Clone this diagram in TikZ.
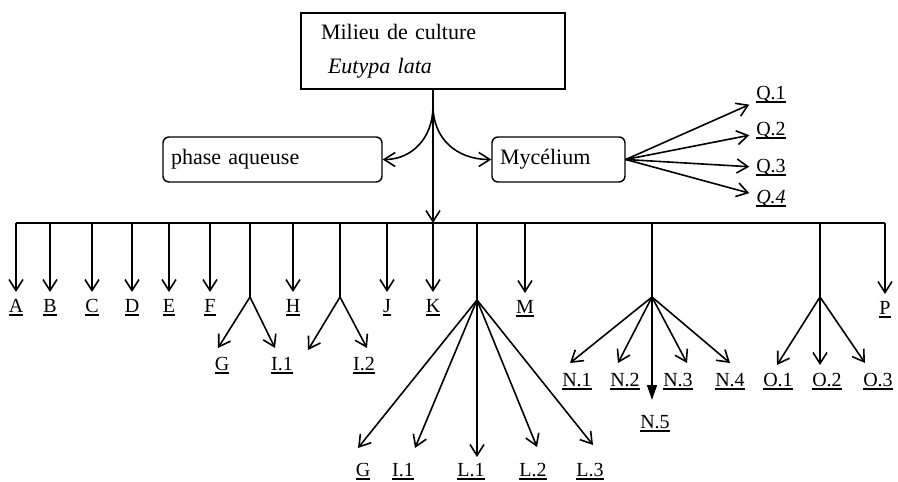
\documentclass[tikz,border=0pt]{standalone}
\usepackage{fontspec}
\setmainfont{Liberation Serif}
\usetikzlibrary{positioning,arrows.meta}

% thicker underline for the fraction labels
\newcommand{\fraclab}[1]{\setbox0\hbox{#1}\rlap{\rule[-3.5pt]{\wd0}{1.3pt}}\box0}

\begin{document}
\begin{tikzpicture}[
        x=1pt, y=-1pt,
        line width=1.6pt,
        % Styles
        topbox/.style={rectangle, draw, line width=1.4pt, minimum height=76pt, text width=224pt, inner xsep=20pt, align=left, font=\fontsize{22}{34}\selectfont},
        roundbox/.style={rectangle, draw, line width=1.4pt, rounded corners=6pt, minimum height=45pt, inner xsep=8pt, align=left, font=\fontsize{22}{26}\selectfont},
        lab/.style={inner sep=0pt, outer sep=7pt, text height=13pt, text depth=5pt, font=\fontsize{20}{24}\selectfont},
        arrow/.style={-{Straight Barb[length=11pt,width=14pt]}},
        fullarrow/.style={-{Triangle[length=15pt,width=10pt]}}
    ]
    \useasboundingbox (0,0) rectangle (898,482);

    % ================= TOP =================
    \node[topbox] (milieu) at (433,51) {Milieu de culture\\\hspace*{7pt}\textit{Eutypa lata}};
    \node[roundbox, text width=203pt] (phase) at (272.5,159.5) {phase aqueuse};
    \node[roundbox, text width=117pt] (myc) at (558.5,159.5) {Mycélium};

    \coordinate (fork) at (433,106);
    \coordinate (bar) at (433,223);
    \draw[arrow] (milieu.south) -- (bar);
    \draw[arrow] (fork) .. controls (433,138) and (412,159.5) .. (phase.east);
    \draw[arrow] (fork) .. controls (433,138) and (456,159.5) .. (myc.west);

    % Mycelium fractions
    \node[lab] (Q1) at (771,95) {\fraclab{Q.1}};
    \node[lab] (Q2) at (771,131) {\fraclab{Q.2}};
    \node[lab] (Q3) at (771,168) {\fraclab{Q.3}};
    \node[lab] (Q4) at (771,199) {\fraclab{\textit{Q.4}}};
    \foreach \q in {Q1,Q2,Q3,Q4}
        \draw[arrow] (myc.east) -- (\q);

    % ================= BAR AND SINGLE FRACTIONS =================
    \foreach \n/\x in {A/16,B/50,C/92,D/132,E/169,F/210,H/293,J/387,K/433}
        \node[lab] (\n) at (\x,308) {\fraclab{\n}};
    \node[lab] (M) at (525,309) {\fraclab{M}};
    \node[lab] (P) at (885,310) {\fraclab{P}};

    \draw (A|-bar) -- (P|-bar);
    \foreach \n in {A,B,C,D,E,F,H,J,K,M,P}
        \draw[arrow] (\n|-bar) -- (\n);

    % ================= FORKS =================
    % G / I.1
    \coordinate (fGI) at (250,297);
    \coordinate (tG1) at (218,348);
    \coordinate (tI1a) at (275,348);
    \node[lab] (G1) at (222,366) {\fraclab{G}};
    \node[lab] (I1a) at (282,366) {\fraclab{I.1}};
    \draw (fGI|-bar) -- (fGI);
    \foreach \t in {tG1,tI1a}
        \draw[arrow] (fGI) -- (\t);

    % I.2
    \coordinate (fI) at (340,297);
    \coordinate (tIa) at (308,350);
    \coordinate (tI2) at (367,348);
    \node[lab] (I2) at (364,366) {\fraclab{I.2}};
    \draw (fI|-bar) -- (fI);
    \foreach \t in {tIa,tI2}
        \draw[arrow] (fI) -- (\t);

    % L
    \coordinate (fL) at (477,300);
    \coordinate (tG2) at (358,448);
    \coordinate (tI1b) at (415,448);
    \coordinate (tL1) at (477,457);
    \coordinate (tL2) at (537,447);
    \coordinate (tL3) at (593,445);
    \node[lab] (G2) at (363,472) {\fraclab{G}};
    \node[lab] (I1b) at (403,472) {\fraclab{I.1}};
    \node[lab] (L1) at (471,472) {\fraclab{L.1}};
    \node[lab] (L2) at (533,472) {\fraclab{L.2}};
    \node[lab] (L3) at (590,472) {\fraclab{L.3}};
    \draw (fL|-bar) -- (fL);
    \foreach \t in {tG2,tI1b,tL1,tL2,tL3}
        \draw[arrow] (fL) -- (\t);

    % N
    \coordinate (fN) at (652,297);
    \coordinate (tN1) at (570,363);
    \coordinate (tN2) at (618,363);
    \coordinate (tN3) at (687,363);
    \coordinate (tN4) at (730,363);
    \coordinate (tN5) at (652,400);
    \node[lab] (N1) at (577,382) {\fraclab{N.1}};
    \node[lab] (N2) at (625,382) {\fraclab{N.2}};
    \node[lab] (N3) at (678,382) {\fraclab{N.3}};
    \node[lab] (N4) at (730,382) {\fraclab{N.4}};
    \node[lab] (N5) at (655,424) {\fraclab{N.5}};
    \draw (fN|-bar) -- (fN);
    \foreach \t in {tN1,tN2,tN3,tN4}
        \draw[arrow] (fN) -- (\t);
    \draw[fullarrow] (fN) -- (tN5);

    % O
    \coordinate (fO) at (820,297);
    \coordinate (tO1) at (777,365);
    \coordinate (tO2) at (820,365);
    \coordinate (tO3) at (865,363);
    \node[lab] (O1) at (778,382) {\fraclab{O.1}};
    \node[lab] (O2) at (827,382) {\fraclab{O.2}};
    \node[lab] (O3) at (878,382) {\fraclab{O.3}};
    \draw (fO|-bar) -- (fO);
    \foreach \t in {tO1,tO2,tO3}
        \draw[arrow] (fO) -- (\t);

\end{tikzpicture}
\end{document}
